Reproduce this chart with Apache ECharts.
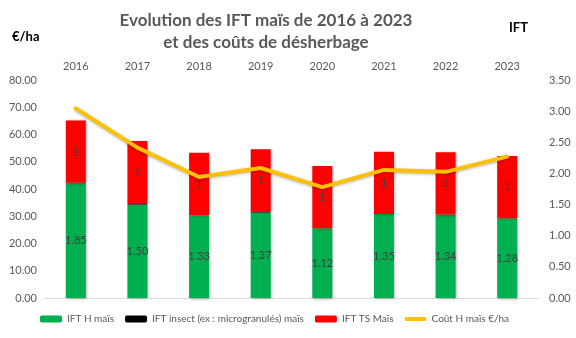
<!DOCTYPE html>
<html>
<head>
<meta charset="utf-8">
<script src="https://cdn.jsdelivr.net/npm/echarts@6/dist/echarts.min.js"></script>
<style>html,body{margin:0;padding:0;background:#fff}#c{width:576px;height:338px}</style>
</head>
<body>
<div id="c"></div>
<script>
var categories = ['2016','2017','2018','2019','2020','2021','2022','2023'];
var iftH = [1.85, 1.50, 1.33, 1.37, 1.12, 1.35, 1.34, 1.28];
var iftInsect = [0, 0.02, 0, 0.02, 0, 0, 0, 0];
var iftTS = [1, 1, 1, 1, 1, 1, 1, 1];
var coutH = [69.6, 55.2, 44.4, 47.7, 40.7, 47.0, 46.3, 51.9];
var leftTicks = ['0.00','10.00','20.00','30.00','40.00','50.00','60.00','70.00','80.00'];
var rightTicks = ['0.00','0.50','1.00','1.50','2.00','2.50','3.00','3.50'];

var FONT = 'Lato, "Open Sans", sans-serif';
var shadow = {shadowColor:'rgba(0,0,0,0.35)', shadowBlur:3, shadowOffsetX:1, shadowOffsetY:1};
var chart = echarts.init(document.getElementById('c'), null, {renderer:'canvas'});
chart.setOption({
  animation:false,
  textStyle:{fontFamily:FONT},
  title:[
    {text:'Evolution des IFT maïs de 2016 à 2023\net des coûts de désherbage', left:261, textAlign:'center', top:5,
     textStyle:{fontFamily:FONT, fontSize:17, fontWeight:'bold', color:'#595959', lineHeight:22}},
    {text:'€/ha', left:7, top:25, textStyle:{fontFamily:FONT, fontSize:13, fontWeight:'bold', color:'#000'}},
    {text:'IFT', left:504, top:16, textStyle:{fontFamily:FONT, fontSize:13, fontWeight:'bold', color:'#000'}}
  ],
  grid:{left:45, right:38, top:80, bottom:40},
  legend:{bottom:9, left:35, itemWidth:22, itemHeight:7, itemGap:11,
    textStyle:{fontFamily:FONT, fontSize:10, color:'#595959'},
    data:['IFT H maïs','IFT insect (ex : microgranulés) maïs','IFT TS Maïs',
      {name:'Coût H maïs €/ha', icon:'path://M2,0 H20 A2,2 0 0 1 20,4 H2 A2,2 0 0 1 2,0 Z'}]},
  xAxis:{type:'category', position:'top', data:categories,
    axisLine:{lineStyle:{color:'#d9d9d9'}}, axisTick:{lineStyle:{color:'#d9d9d9'}, length:4},
    axisLabel:{color:'#595959', fontSize:11, margin:8}},
  yAxis:[
    {type:'value', min:0, max:80, interval:10, splitLine:{show:false}, axisLine:{show:false},
     axisLabel:{color:'#595959', fontSize:11, formatter:function(v){return leftTicks[Math.round(v/10)];}}},
    {type:'value', min:0, max:3.5, interval:0.5, splitLine:{show:false}, axisLine:{show:false},
     axisLabel:{color:'#595959', fontSize:11, margin:11, formatter:function(v){return rightTicks[Math.round(v/0.5)];}}}
  ],
  series:[
    {name:'IFT H maïs', type:'bar', stack:'ift', yAxisIndex:1, data:iftH, barWidth:20,
     itemStyle:Object.assign({color:'#00B050'}, shadow),
     label:{show:true, position:'inside', color:'#404040', fontSize:11, formatter:function(p){return p.value.toFixed(2);}}},
    {name:'IFT insect (ex : microgranulés) maïs', type:'bar', stack:'ift', yAxisIndex:1, data:iftInsect, barWidth:20,
     itemStyle:{color:'#000000'}},
    {name:'IFT TS Maïs', type:'bar', stack:'ift', yAxisIndex:1, data:iftTS, barWidth:20,
     itemStyle:Object.assign({color:'#FF0000'}, shadow),
     label:{show:true, position:'inside', color:'#404040', fontSize:12, formatter:function(p){return String(p.value);}}},
    {name:'Coût H maïs €/ha', type:'line', yAxisIndex:0, data:coutH, symbol:'none', z:5,
     lineStyle:{color:'#FFC000', width:4, cap:'round', shadowColor:'rgba(0,0,0,0.3)', shadowBlur:3, shadowOffsetY:1},
     itemStyle:{color:'#FFC000'}}
  ]
});
</script>
</body>
</html>
